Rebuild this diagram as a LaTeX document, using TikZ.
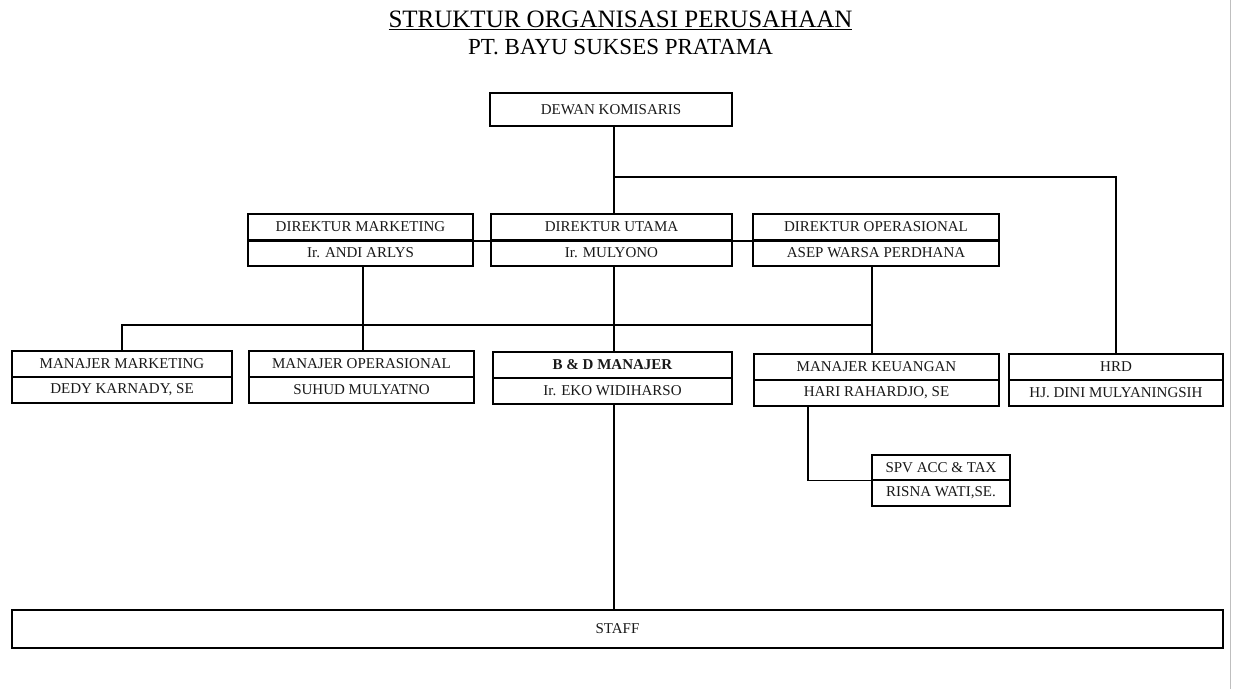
\documentclass[tikz,border=0pt]{standalone}
\usepackage{fontspec}
\setmainfont{Liberation Serif}
\begin{document}
\begin{tikzpicture}[x=1pt,y=-1pt,
  cell/.style={draw, line width=1.2pt, inner sep=0pt, font=\fontsize{15}{15}\selectfont, text=black!90},
  link/.style={line width=1.2pt},
  heavy/.style={line width=2.2pt}]
\useasboundingbox (0,0) rectangle (1233,689);
\fill[white] (0,0) rectangle (1233,689);
\draw[black!25, line width=1pt] (1230,0) -- (1230,689);
% titles
\node[font=\fontsize{25}{25}\selectfont] (t1) at (620.5,20) {\underline{STRUKTUR ORGANISASI PERUSAHAAN}};
\node[font=\fontsize{23}{23}\selectfont] (t2) at (620.5,47) {PT. BAYU SUKSES PRATAMA};
% top
\node[cell, minimum width=242pt, minimum height=33pt] (dk) at (611,109.5) {DEWAN KOMISARIS};
% directors
\node[cell, minimum width=225pt, minimum height=26pt] (dm1) at (360.5,227) {DIREKTUR MARKETING};
\node[cell, minimum width=225pt, minimum height=26pt] (dm2) at (360.5,253) {Ir. ANDI ARLYS};
\node[cell, minimum width=241pt, minimum height=26pt] (du1) at (611.5,227) {DIREKTUR UTAMA};
\node[cell, minimum width=241pt, minimum height=26pt] (du2) at (611.5,253) {Ir. MULYONO};
\node[cell, minimum width=246pt, minimum height=26pt] (do1) at (876,227) {DIREKTUR OPERASIONAL};
\node[cell, minimum width=246pt, minimum height=26pt] (do2) at (876,253) {ASEP WARSA PERDHANA};
% managers
\node[cell, minimum width=220pt, minimum height=26pt] (mm1) at (122,364) {MANAJER MARKETING};
\node[cell, minimum width=220pt, minimum height=26pt] (mm2) at (122,390) {DEDY KARNADY, SE};
\node[cell, minimum width=225pt, minimum height=26pt] (mo1) at (361.5,364) {MANAJER OPERASIONAL};
\node[cell, minimum width=225pt, minimum height=26pt] (mo2) at (361.5,390) {SUHUD MULYATNO};
\node[cell, minimum width=239pt, minimum height=26pt, font=\fontsize{15}{15}\selectfont\bfseries] (bd1) at (612.5,365) {B \& D MANAJER};
\node[cell, minimum width=239pt, minimum height=26pt] (bd2) at (612.5,391) {Ir. EKO WIDIHARSO};
\node[cell, minimum width=245pt, minimum height=26pt] (mk1) at (876.5,367) {MANAJER KEUANGAN};
\node[cell, minimum width=245pt, minimum height=26pt] (mk2) at (876.5,393) {HARI RAHARDJO, SE};
\node[cell, minimum width=214pt, minimum height=26pt] (hr1) at (1116,367) {HRD};
\node[cell, minimum width=214pt, minimum height=26pt] (hr2) at (1116,393) {HJ. DINI MULYANINGSIH};
% spv
\node[cell, minimum width=138pt, minimum height=25pt] (sp1) at (941,467.5) {SPV ACC \& TAX};
\node[cell, minimum width=138pt, minimum height=26pt] (sp2) at (941,493) {RISNA WATI,SE.};
% staff
\node[cell, minimum width=1211pt, minimum height=38pt] (st) at (617.5,629) {STAFF};
% coordinates
\coordinate (br) at (614,177);
\coordinate (bus) at (0,325);
\coordinate (kx) at (808,0);
\coordinate (mx) at (363,0);
\coordinate (ox) at (872,0);
% connectors
\draw[link] (dk.south -| br) -- (du1.north -| br);
\draw[link] (br) -| (hr1.north);
\draw[heavy] (dm1.south west) -- (do1.south east);
\draw[link] (dm2.south -| mx) -- (mo1.north -| mx);
\draw[link] (do2.south -| ox) -- (mk1.north -| ox);
\draw[link] (mm1.north) -- (mm1.north |- bus) -- (ox |- bus);
\draw[link] (du2.south -| br) -- (bd1.north -| br);
\draw[link] (bd2.south -| br) -- (st.north -| br);
\draw[link] (mk2.south -| kx) |- (sp1.south west);
\end{tikzpicture}
\end{document}
